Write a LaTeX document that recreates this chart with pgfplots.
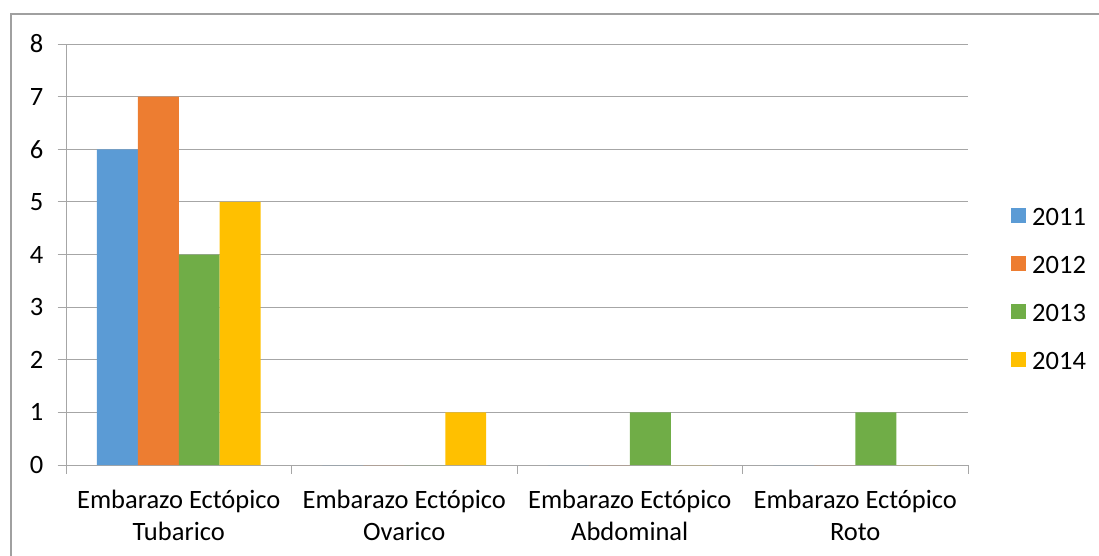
\documentclass[border=0pt]{standalone}
\usepackage{pgfplots}
\pgfplotsset{compat=1.18}
\usepackage{fontspec}
\setmainfont{Carlito}
\definecolor{c11}{HTML}{5B9BD5}
\definecolor{c12}{HTML}{ED7D31}
\definecolor{c13}{HTML}{70AD47}
\definecolor{c14}{HTML}{FFC000}
\definecolor{gridgray}{HTML}{A6A6A6}
\definecolor{framegray}{HTML}{A0A0A0}
\newcommand{\cfont}{\fontsize{26.5pt}{32pt}\selectfont}
\begin{document}
\begin{tikzpicture}[x=1pt,y=1pt]
\useasboundingbox (0,0) rectangle (1099,555);
\draw[color=framegray, line width=1.2pt] (11,-20) rectangle (1120,541);
\begin{axis}[at={(66pt,90pt)}, anchor=south west, scale only axis,
  width=902pt, height=421pt,
  xmin=-0.5, xmax=3.5, ymin=0, ymax=8, ytick={0,...,8},
  axis x line*=bottom, axis y line*=left,
  axis line style={draw=gridgray, line width=1pt},
  ymajorgrids, grid style={draw=gridgray, line width=1pt},
  tick align=outside, major tick length=8.5pt,
  tick style={draw=gridgray, line width=1pt},
  xtick={-0.5,0.5,1.5,2.5,3.5}, xticklabels={},
  extra x ticks={0,1,2,3},
  extra x tick labels={{Embarazo Ectópico\\Tubarico},{Embarazo Ectópico\\Ovarico},{Embarazo Ectópico\\Abdominal},{Embarazo Ectópico\\Roto}},
  extra x tick style={tick style={draw=none}},
  xticklabel style={align=center, font=\cfont, anchor=north, inner sep=0pt, yshift=-16pt},
  yticklabel style={font=\cfont, anchor=east, inner sep=0pt, xshift=-14pt},
  /pgf/number format/assume math mode=true,
  legend style={at={(axis description cs:1.0477,0.615)}, anchor=north west, draw=none, fill=none, font=\cfont, inner sep=0pt, row sep=25.3pt, column sep=4pt},
  legend cell align=left,
  legend image code/.code={\fill[#1] (0pt,-5pt) rectangle (15pt,10pt);},
]
\addplot[ybar, bar width=0.1818, bar shift=-0.2727, fill=c11, draw=none] coordinates {(0,6) (1,0) (2,0) (3,0)};
\addplot[ybar, bar width=0.1818, bar shift=-0.0909, fill=c12, draw=none] coordinates {(0,7) (1,0) (2,0) (3,0)};
\addplot[ybar, bar width=0.1818, bar shift=0.0909, fill=c13, draw=none] coordinates {(0,4) (1,0) (2,1) (3,1)};
\addplot[ybar, bar width=0.1818, bar shift=0.2727, fill=c14, draw=none] coordinates {(0,5) (1,1) (2,0) (3,0)};
\legend{2011,2012,2013,2014}
\end{axis}
\end{tikzpicture}
\end{document}
